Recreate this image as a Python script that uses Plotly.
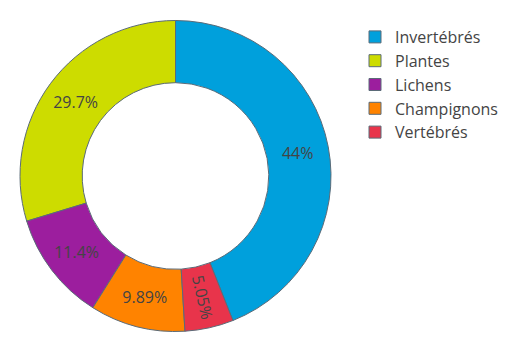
import plotly.graph_objects as go

labels = ["Invertébrés", "Plantes", "Lichens", "Champignons", "Vertébrés"]
values = [44.0, 29.7, 11.4, 9.89, 5.05]
colors = ["#00a0dc", "#cddc00", "#9c1e9e", "#ff8300", "#e8344b"]

fig = go.Figure(go.Pie(
    labels=labels,
    values=values,
    hole=0.6,
    sort=True,
    direction="counterclockwise",
    marker=dict(colors=colors, line=dict(color="#5b6b78", width=1)),
    textinfo="percent",
    textposition="inside",
    textfont=dict(color="#444444", size=16),
    domain=dict(x=[12/512, 323/512], y=[1-323.5/364, 1-12.5/364]),
))
fig.update_layout(
    width=512, height=364,
    margin=dict(l=0, r=0, t=0, b=0),
    font=dict(family="Open Sans", size=16, color="#444444"),
    paper_bgcolor="white",
    legend=dict(x=347/512, y=1-12/364, xanchor="left", yanchor="top", font=dict(size=16)),
)
fig.write_html("out.html")
